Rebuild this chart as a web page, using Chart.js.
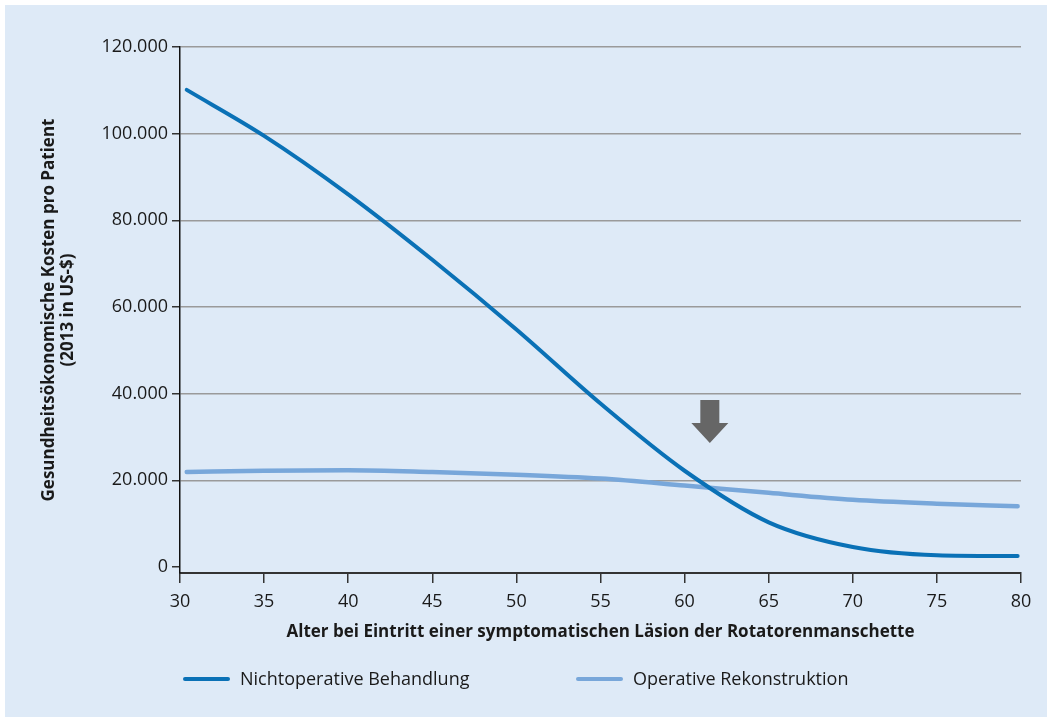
<!DOCTYPE html>
<html>
<head>
<meta charset="utf-8">
<script src="https://cdn.jsdelivr.net/npm/chart.js@4/dist/chart.umd.min.js"></script>
<style>
  html, body { margin: 0; padding: 0; background: #ffffff; }
  #wrap { position: absolute; left: 0; top: 0; width: 1047px; height: 717px; }
  #legend { position: absolute; left: 0; top: 664px; width: 1047px; height: 28px; font-family: 'Open Sans', sans-serif; font-size: 18px; color: #1a1a1a; }
  .item { position: absolute; top: 0; height: 28px; line-height: 28px; white-space: nowrap; }
  .swatch { display: inline-block; width: 47px; height: 4px; border-radius: 2px; vertical-align: middle; margin-right: 10px; position: relative; top: -1px; }
</style>
</head>
<body>
<div id="wrap"><canvas id="chart" width="1047" height="717"></canvas><div id="legend"></div></div>
<script>
// data (age in years, costs in US-$ 2013)
var ages = [30.4, 35, 40, 45, 50, 55, 60, 65, 70, 75, 79.8];
var costsNonOp = [110100, 99500, 86000, 70900, 54800, 37700, 22200, 10300, 4600, 2700, 2500];
var costsOp = [21900, 22200, 22300, 21900, 21300, 20400, 18800, 17100, 15500, 14600, 14000];
var yTicks = [0, 20000, 40000, 60000, 80000, 100000, 120000];
var xTicks = [30, 35, 40, 45, 50, 55, 60, 65, 70, 75, 80];
var seriesNames = ["Nichtoperative Behandlung", "Operative Rekonstruktion"];
// arrow marking the break-even age
var arrowAge = 61.5, arrowTop = 38500, arrowHeadStart = 33200, arrowTip = 28600;

var darkBlue = "#0a71b6", lightBlue = "#78a7da", boxColor = "#deeaf7";
var seriesColors = [darkBlue, lightBlue];
var legendLeft = [183, 576];

function toPoints(xs, ys) {
    var pts = [];
    for (var i = 0; i < xs.length; i++) pts.push({ x: xs[i], y: ys[i] });
    return pts;
}

function formatDe(v) {
    return String(v).replace(/\B(?=(\d{3})+(?!\d))/g, ".");
}

var backgroundPlugin = {
    id: "boxBackground",
    beforeDraw: function (chart) {
        var ctx = chart.ctx;
        ctx.save();
        ctx.fillStyle = boxColor;
        ctx.fillRect(5, 5, chart.width - 5, chart.height - 5);
        ctx.restore();
    }
};

var arrowPlugin = {
    id: "arrow",
    afterDatasetsDraw: function (chart) {
        var ctx = chart.ctx, xs = chart.scales.x, ys = chart.scales.y;
        var cx = xs.getPixelForValue(arrowAge);
        var top = ys.getPixelForValue(arrowTop);
        var mid = ys.getPixelForValue(arrowHeadStart);
        var tip = ys.getPixelForValue(arrowTip);
        ctx.save();
        ctx.fillStyle = "#666666";
        ctx.beginPath();
        ctx.moveTo(cx - 9.5, top);
        ctx.lineTo(cx + 9.5, top);
        ctx.lineTo(cx + 9.5, mid);
        ctx.lineTo(cx + 18.5, mid);
        ctx.lineTo(cx, tip);
        ctx.lineTo(cx - 18.5, mid);
        ctx.lineTo(cx - 9.5, mid);
        ctx.closePath();
        ctx.fill();
        ctx.restore();
    }
};

var fontFamily = "'Open Sans', sans-serif";

var chart = new Chart(document.getElementById("chart"), {
    type: "line",
    data: {
        datasets: [{
            label: seriesNames[0],
            data: toPoints(ages, costsNonOp),
            borderColor: darkBlue,
            backgroundColor: darkBlue,
            borderWidth: 4,
            borderCapStyle: "round",
            pointRadius: 0,
            cubicInterpolationMode: "monotone",
            order: 1
        }, {
            label: seriesNames[1],
            data: toPoints(ages, costsOp),
            borderColor: lightBlue,
            backgroundColor: lightBlue,
            borderWidth: 4.5,
            borderCapStyle: "round",
            pointRadius: 0,
            cubicInterpolationMode: "monotone",
            order: 2
        }]
    },
    options: {
        responsive: false,
        animation: false,
        layout: { padding: { left: 0, top: 47, right: 26, bottom: 75 } },
        plugins: {
            tooltip: { enabled: false },
            legend: { display: false }
        },
        scales: {
            x: {
                type: "linear",
                min: 30,
                max: 80,
                afterBuildTicks: function (scale) {
                    scale.ticks = xTicks.map(function (v) { return { value: v }; });
                },
                grid: { display: true, drawOnChartArea: false, drawTicks: true, tickLength: 10, tickColor: "#333333", lineWidth: 1.5 },
                border: { display: true, color: "#333333", width: 2 },
                ticks: { color: "#1a1a1a", padding: 8, font: { family: fontFamily, size: 18 }, maxRotation: 0 },
                title: {
                    display: true,
                    text: "Alter bei Eintritt einer symptomatischen Läsion der Rotatorenmanschette",
                    color: "#1a1a1a",
                    font: { family: fontFamily, size: 17, weight: "bold" },
                    padding: { top: 1, bottom: 0 }
                }
            },
            y: {
                type: "linear",
                min: -1400,
                max: 120000,
                afterBuildTicks: function (scale) {
                    scale.ticks = yTicks.map(function (v) { return { value: v }; });
                },
                afterFit: function (scale) { scale.width = 180; },
                grid: {
                    color: function (c) { return c.tick && c.tick.value === 0 ? "rgba(0,0,0,0)" : "#9a9a9a"; },
                    lineWidth: 1.5,
                    drawTicks: true,
                    tickLength: 8,
                    tickColor: "#333333"
                },
                border: { display: true, color: "#111111", width: 1.5 },
                ticks: {
                    color: "#1a1a1a",
                    padding: 4,
                    font: { family: fontFamily, size: 18 },
                    callback: function (v) { return formatDe(v); }
                },
                title: {
                    display: true,
                    text: ["Gesundheitsökonomische Kosten pro Patient", "(2013 in US-$)"],
                    color: "#1a1a1a",
                    font: { family: fontFamily, size: 17, weight: "bold", lineHeight: 1.1 },
                    padding: { top: 40, bottom: 0 }
                }
            }
        }
    },
    plugins: [backgroundPlugin, arrowPlugin]
});

// legend as html, built from the datasets
var legendEl = document.getElementById("legend");
chart.data.datasets.forEach(function (ds, i) {
    var item = document.createElement("div");
    item.className = "item";
    item.style.left = legendLeft[i] + "px";
    var sw = document.createElement("span");
    sw.className = "swatch";
    sw.style.background = seriesColors[i];
    item.appendChild(sw);
    item.appendChild(document.createTextNode(ds.label));
    legendEl.appendChild(item);
});
</script>
</body>
</html>
